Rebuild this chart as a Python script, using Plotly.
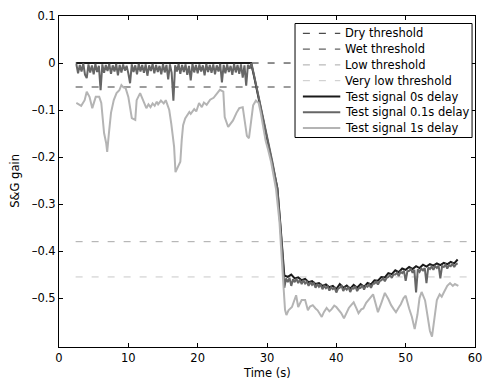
import plotly.graph_objects as go

# ---------------- data ----------------
thr_t = [2.4, 60.0]
dry_thr = [0.0, 0.0]
wet_thr = [-0.051, -0.051]
low_thr = [-0.38, -0.38]
vlow_thr = [-0.455, -0.455]

t_0s = [2.5, 27.7, 28.1, 28.8, 29.8, 30.8, 31.5, 31.9, 32.25,
        32.5, 33.0, 33.5, 34.0, 34.5, 35.0, 35.5, 36.0, 36.5, 37.0, 37.5,
        38.0, 38.5, 39.0, 39.5, 40.0, 40.5, 41.0, 41.5, 42.0, 42.5, 43.0,
        43.5, 44.0, 44.5, 45.0, 45.5, 46.0, 46.5, 47.0, 47.5, 48.0, 48.5,
        49.0, 49.5, 50.0, 50.5, 51.0, 51.5, 52.0, 52.5, 53.0, 53.5, 54.0,
        54.5, 55.0, 55.5, 56.0, 56.5, 57.0, 57.5]
g_0s = [0.0, 0.0, -0.026, -0.074, -0.147, -0.211, -0.266, -0.338, -0.405,
        -0.452, -0.455, -0.450, -0.458, -0.456, -0.462, -0.459, -0.466, -0.464, -0.470, -0.468,
        -0.474, -0.471, -0.477, -0.474, -0.481, -0.470, -0.478, -0.473, -0.480, -0.472, -0.478,
        -0.470, -0.476, -0.468, -0.471, -0.462, -0.463, -0.455, -0.456, -0.447, -0.449, -0.441,
        -0.445, -0.437, -0.440, -0.434, -0.438, -0.432, -0.436, -0.429, -0.433, -0.428, -0.431,
        -0.426, -0.430, -0.425, -0.428, -0.423, -0.426, -0.418]

t_01s = [2.5, 2.75, 3.0, 3.25, 3.5, 3.75, 4.0, 4.25, 4.5, 4.75,
         5.0, 5.25, 5.5, 5.75, 6.0, 6.25, 6.5, 6.75, 7.0, 7.25,
         7.5, 7.75, 8.0, 8.25, 8.5, 8.75, 9.0, 9.25, 9.5, 9.75,
         10.0, 10.25, 10.5, 10.75, 11.0, 11.25, 11.5, 11.75, 12.0, 12.25,
         12.5, 12.75, 13.0, 13.25, 13.5, 13.75, 14.0, 14.25, 14.5, 14.75,
         15.0, 15.25, 15.5, 15.75, 16.0, 16.25, 16.5, 16.75, 17.0, 17.25,
         17.5, 17.75, 18.0, 18.25, 18.5, 18.75, 19.0, 19.25, 19.5, 19.75,
         20.0, 20.25, 20.5, 20.75, 21.0, 21.25, 21.5, 21.75, 22.0, 22.25,
         22.5, 22.75, 23.0, 23.25, 23.5, 23.75, 24.0, 24.25, 24.5, 24.75,
         25.0, 25.25, 25.5, 25.75, 26.0, 26.25, 26.5, 26.75, 27.0, 27.25,
         27.5, 27.75, 28.1, 28.8, 29.8, 30.8, 31.5, 31.9, 32.25,
         32.5, 32.75, 33.0, 33.25, 33.5, 33.75, 34.0, 34.25, 34.5, 34.75,
         35.0, 35.25, 35.5, 35.75, 36.0, 36.25, 36.5, 36.75, 37.0, 37.25,
         37.5, 37.75, 38.0, 38.25, 38.5, 38.75, 39.0, 39.25, 39.5, 39.75,
         40.0, 40.25, 40.5, 40.75, 41.0, 41.25, 41.5, 41.75, 42.0, 42.25,
         42.5, 42.75, 43.0, 43.25, 43.5, 43.75, 44.0, 44.25, 44.5, 44.75,
         45.0, 45.25, 45.5, 45.75, 46.0, 46.25, 46.5, 46.75, 47.0, 47.25,
         47.5, 47.75, 48.0, 48.25, 48.5, 48.75, 49.0, 49.25, 49.5, 49.75,
         50.0, 50.25, 50.5, 50.75, 51.0, 51.25, 51.5, 51.75, 52.0, 52.25,
         52.5, 52.75, 53.0, 53.25, 53.5, 53.75, 54.0, 54.25, 54.5, 54.75,
         55.0, 55.25, 55.5, 55.75, 56.0, 56.25, 56.5, 56.75, 57.0, 57.25,
         57.5]
g_01s = [-0.002, -0.022, -0.004, -0.018, -0.001, -0.025, -0.032, -0.003, -0.020, -0.005,
         -0.024, -0.002, -0.019, -0.006, -0.058, -0.003, -0.021, -0.004, -0.017, -0.002,
         -0.023, -0.005, -0.018, -0.002, -0.026, -0.004, -0.020, -0.003, -0.016, -0.006,
         -0.022, -0.043, -0.003, -0.019, -0.005, -0.024, -0.002, -0.018, -0.004, -0.021,
         -0.003, -0.027, -0.005, -0.017, -0.002, -0.022, -0.004, -0.019, -0.006, -0.024,
         -0.002, -0.020, -0.004, -0.035, -0.003, -0.021, -0.080, -0.005, -0.018, -0.002,
         -0.023, -0.004, -0.019, -0.003, -0.025, -0.006, -0.037, -0.002, -0.020, -0.004,
         -0.022, -0.003, -0.018, -0.005, -0.026, -0.002, -0.019, -0.004, -0.021, -0.003,
         -0.024, -0.005, -0.018, -0.002, -0.041, -0.004, -0.022, -0.003, -0.019, -0.006,
         -0.025, -0.002, -0.020, -0.004, -0.023, -0.003, -0.031, -0.005, -0.048, -0.004,
         -0.012, 0.0, -0.024, -0.072, -0.146, -0.212, -0.268, -0.340, -0.410,
         -0.478, -0.458, -0.466, -0.457, -0.474, -0.460, -0.466, -0.459, -0.468, -0.461,
         -0.470, -0.462, -0.469, -0.465, -0.474, -0.466, -0.472, -0.468, -0.478, -0.470,
         -0.476, -0.472, -0.481, -0.474, -0.479, -0.475, -0.484, -0.477, -0.481, -0.478,
         -0.488, -0.480, -0.478, -0.474, -0.485, -0.478, -0.482, -0.476, -0.487, -0.479,
         -0.480, -0.475, -0.485, -0.479, -0.478, -0.473, -0.482, -0.474, -0.476, -0.471,
         -0.478, -0.470, -0.469, -0.465, -0.471, -0.464, -0.462, -0.458, -0.464, -0.457,
         -0.455, -0.451, -0.457, -0.450, -0.450, -0.446, -0.453, -0.444, -0.447, -0.442,
         -0.463, -0.443, -0.442, -0.438, -0.446, -0.440, -0.488, -0.439, -0.444, -0.437,
         -0.441, -0.436, -0.468, -0.435, -0.438, -0.433, -0.440, -0.432, -0.436, -0.431,
         -0.458, -0.432, -0.434, -0.429, -0.437, -0.430, -0.432, -0.427, -0.434, -0.428,
         -0.426]

t_1s = [2.5, 3.2, 3.7, 4.0, 4.4, 4.8, 5.3, 5.8, 6.1, 6.5, 6.8, 6.95, 7.2, 7.5,
        7.9, 8.3, 8.7, 9.0, 9.3, 9.6, 10.0, 10.3, 10.5, 11.0, 11.2, 11.7, 12.1, 12.6,
        12.9, 13.2, 13.5, 13.8, 14.1, 14.3, 14.7, 15.1, 15.4, 15.9, 16.2, 16.4, 16.6, 16.8, 17.1,
        17.5, 17.7, 17.9, 18.2, 18.5, 18.8, 19.0, 19.5, 19.8, 20.2, 20.6, 20.9, 21.3, 21.8, 22.3, 22.8,
        23.2, 23.7, 23.9, 24.4, 24.8, 25.1, 25.6, 26.0, 26.5, 26.8, 27.1, 27.4, 27.7,
        28.0, 28.4, 28.8, 29.1, 29.8, 30.1, 30.6, 31.3, 31.8, 32.1, 32.4, 32.6,
        32.8, 33.1, 33.6, 34.2, 34.5, 35.0, 35.5, 35.9, 36.2, 36.6, 37.0, 37.3, 37.9, 38.2, 38.6,
        39.0, 39.3, 39.7, 40.0, 40.4, 40.7, 41.1, 41.5, 41.8, 42.2, 42.5, 42.9, 43.2, 43.6, 43.9, 44.3,
        44.6, 45.3, 45.6, 46.0, 46.5, 47.0, 47.5, 47.9, 48.3, 48.6, 49.0, 49.3, 49.7, 50.0, 50.5,
        50.9, 51.3, 51.7, 52.0, 52.3, 52.8, 53.1, 53.5, 53.8, 54.1, 54.5, 54.9, 55.2, 55.5, 56.0,
        56.4, 56.8, 57.1, 57.6]
g_1s = [-0.085, -0.091, -0.079, -0.061, -0.072, -0.096, -0.072, -0.072, -0.085, -0.149, -0.170, -0.189, -0.149, -0.106,
        -0.079, -0.064, -0.058, -0.047, -0.052, -0.053, -0.072, -0.106, -0.117, -0.121, -0.079, -0.064, -0.079, -0.096,
        -0.088, -0.094, -0.086, -0.091, -0.082, -0.088, -0.080, -0.086, -0.079, -0.100, -0.130, -0.149, -0.178, -0.232, -0.221,
        -0.210, -0.164, -0.132, -0.118, -0.111, -0.104, -0.108, -0.098, -0.103, -0.085, -0.094, -0.084, -0.089, -0.078, -0.074, -0.064,
        -0.057, -0.061, -0.115, -0.136, -0.128, -0.122, -0.106, -0.096, -0.094, -0.130, -0.155, -0.160, -0.126,
        -0.090, -0.080, -0.085, -0.106, -0.165, -0.181, -0.211, -0.268, -0.338, -0.410, -0.480, -0.525,
        -0.536, -0.526, -0.519, -0.494, -0.519, -0.504, -0.504, -0.526, -0.518, -0.515, -0.522, -0.526, -0.540, -0.530, -0.521,
        -0.528, -0.524, -0.516, -0.519, -0.527, -0.532, -0.543, -0.528, -0.521, -0.514, -0.509, -0.522, -0.532, -0.524, -0.522, -0.510,
        -0.504, -0.492, -0.508, -0.530, -0.510, -0.489, -0.502, -0.515, -0.524, -0.530, -0.520, -0.513, -0.500, -0.495, -0.522,
        -0.540, -0.566, -0.535, -0.500, -0.487, -0.505, -0.532, -0.570, -0.582, -0.545, -0.504, -0.492, -0.497, -0.488, -0.474,
        -0.468, -0.474, -0.470, -0.474]

x_ticks = [0, 10, 20, 30, 40, 50, 60]
y_ticks = [0.1, 0.0, -0.1, -0.2, -0.3, -0.4, -0.5]
y_tick_text = ["0.1", "0", "\u20130.1", "\u20130.2", "\u20130.3", "\u20130.4", "\u20130.5"]

names = ["Dry threshold", "Wet threshold", "Low threshold", "Very low threshold",
         "Test signal 0s delay", "Test signal 0.1s delay", "Test signal 1s delay"]

# ---------------- styles ----------------
FONT = "DejaVu Sans"
W, H = 491, 380
L, R, T, B = 59, 9, 16, 33
DASH = "7px,9px"
styles = [
    dict(color="#1e1e1e", width=1, dash=DASH),
    dict(color="#3a3a3a", width=1, dash=DASH),
    dict(color="#a8a8a8", width=1, dash=DASH),
    dict(color="#c8c8c8", width=1, dash=DASH),
    dict(color="#1a1a1a", width=2),
    dict(color="#666666", width=2),
    dict(color="#b4b4b4", width=2),
]

series = [(thr_t, dry_thr), (thr_t, wet_thr), (thr_t, low_thr), (thr_t, vlow_thr),
          (t_0s, g_0s), (t_01s, g_01s), (t_1s, g_1s)]

fig = go.Figure()
for (xs, ys), nm, st in zip(series, names, styles):
    fig.add_trace(go.Scatter(x=xs, y=ys, mode="lines", name=nm, line=st,
                             showlegend=False, hoverinfo="skip"))

pw, ph = W - L - R, H - T - B
def px(xp):
    return (xp - L) / pw
def py(yp):
    return (H - B - yp) / ph

# manual legend (matches the compact MATLAB legend)
shapes = [dict(type="rect", xref="paper", yref="paper",
               x0=px(299), x1=px(479), y0=py(137.5), y1=py(23.5),
               line=dict(color="black", width=1), fillcolor="white", layer="above")]
annos = []
row_y = [33.3, 49.1, 64.9, 80.7, 96.5, 112.3, 128.1]
for yy, nm, st in zip(row_y, names, styles):
    shapes.append(dict(type="line", xref="paper", yref="paper",
                       x0=px(307), x1=px(345), y0=py(yy), y1=py(yy),
                       line=st, layer="above"))
    annos.append(dict(xref="paper", yref="paper", x=px(348), y=py(yy),
                      xanchor="left", yanchor="middle", text=nm, showarrow=False,
                      font=dict(family=FONT, size=11.5, color="black")))

annos.append(dict(xref="paper", yref="paper", x=px(271), y=py(373),
                  xanchor="center", yanchor="middle", text="Time (s)", showarrow=False,
                  font=dict(family=FONT, size=11.5, color="black")))
annos.append(dict(xref="paper", yref="paper", x=px(14), y=py(181),
                  xanchor="center", yanchor="middle", text="S&amp;G gain", textangle=-90,
                  showarrow=False, font=dict(family=FONT, size=11.5, color="black")))

axis_common = dict(showgrid=False, zeroline=False, showline=True, linecolor="black",
                   linewidth=1, mirror="allticks", ticks="inside", ticklen=4,
                   tickcolor="black", tickwidth=1,
                   tickfont=dict(family=FONT, size=11.5, color="black"))

fig.update_layout(
    width=W, height=H, margin=dict(l=L, r=R, t=T, b=B),
    paper_bgcolor="white", plot_bgcolor="white",
    shapes=shapes, annotations=annos, showlegend=False,
    xaxis=dict(range=[0, 60], tickvals=x_ticks, **axis_common),
    yaxis=dict(range=[-0.604, 0.1], tickvals=y_ticks, ticktext=y_tick_text, **axis_common),
)

fig.write_html("out.html")
